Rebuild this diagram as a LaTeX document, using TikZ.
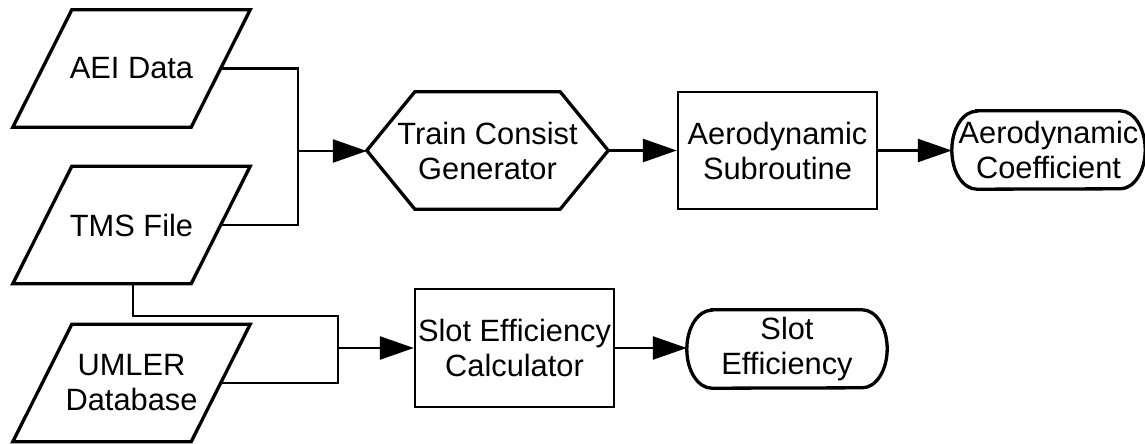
\documentclass[tikz,border=0pt]{standalone}
\usepackage{fontspec}
\setmainfont{Liberation Sans}
\usetikzlibrary{arrows.meta}

\tikzset{
  lbl/.style={inner sep=0pt, align=center, font=\fontsize{30.8}{35}\selectfont},
  ghost/.style={lbl, rectangle, draw=none},
  procbox/.style={lbl, rectangle, draw, line width=2.3pt},
  outline/.style={line width=3.3pt, line join=miter},
  conn/.style={line width=2.5pt},
  flow/.style={conn, -{Triangle[length=34pt,width=23pt]}},
}

\begin{document}
\begin{tikzpicture}[x=1pt, y=-1pt]
\useasboundingbox (0,0) rectangle (1145,444);

% data inputs (parallelograms)
\node[ghost, minimum width=237pt, minimum height=117pt] (aei) at (131.5,68.5) {AEI Data};
\node[ghost, minimum width=237pt, minimum height=117pt] (tms) at (131.5,225) {TMS File};
\node[ghost, minimum width=237pt, minimum height=117pt] (uml) at (131.5,383) {UMLER\\Database};
\foreach \n in {aei,tms,uml}
  \draw[outline] ([xshift=59]\n.north west) -- (\n.north east)
    -- ([xshift=-59]\n.south east) -- (\n.south west) -- cycle;

% preparation step (hexagon)
\node[ghost, minimum width=241pt, minimum height=117pt] (tcg) at (487.5,150.5) {Train Consist\\Generator};
\draw[outline] (tcg.west) -- ([xshift=48]tcg.north west) -- ([xshift=-48]tcg.north east)
  -- (tcg.east) -- ([xshift=-48]tcg.south east) -- ([xshift=48]tcg.south west) -- cycle;

% processes
\node[procbox, minimum width=199pt, minimum height=117pt] (aer) at (777.5,150.5) {Aerodynamic\\Subroutine};
\node[procbox, minimum width=199pt, minimum height=118pt] (sec) at (514.5,348) {Slot Efficiency\\Calculator};

% results (terminals)
\node[ghost, minimum width=193pt, minimum height=78pt] (coef) at (1048.5,150) {Aerodynamic\\Coefficient};
\node[ghost, minimum width=200pt, minimum height=78pt] (slot) at (787,349) {Slot\\Efficiency};
\foreach \n in {coef,slot}
  \draw[outline] ([xshift=25]\n.north west) -- ([xshift=-25]\n.north east)
    arc[start angle=90, end angle=-90, x radius=25pt, y radius=39pt]
    -- ([xshift=25]\n.south west)
    arc[start angle=270, end angle=90, x radius=25pt, y radius=39pt] -- cycle;

% junction points
\coordinate (j1) at (298,151);
\coordinate (k2) at (338,316);
\coordinate (j2) at (338,348);

% connectors
\draw[conn] ([xshift=-29.5]aei.east) -- (aei.east -| j1) -- (tms.east -| j1) -- ([xshift=-29.5]tms.east);
\draw[flow] (j1) -- (j1 -| tcg.west);
\draw[flow] (tcg.east) -- (aer.west);
\draw[flow] (aer.east) -- (aer.east -| coef.west);

\draw[conn] ([xshift=1.5]tms.south) |- (k2) -- (uml.east -| k2) -- ([xshift=-29.5]uml.east);
\draw[flow] (j2) -- (j2 -| sec.west);
\draw[flow] (sec.east) -- (sec.east -| slot.west);
\end{tikzpicture}
\end{document}
